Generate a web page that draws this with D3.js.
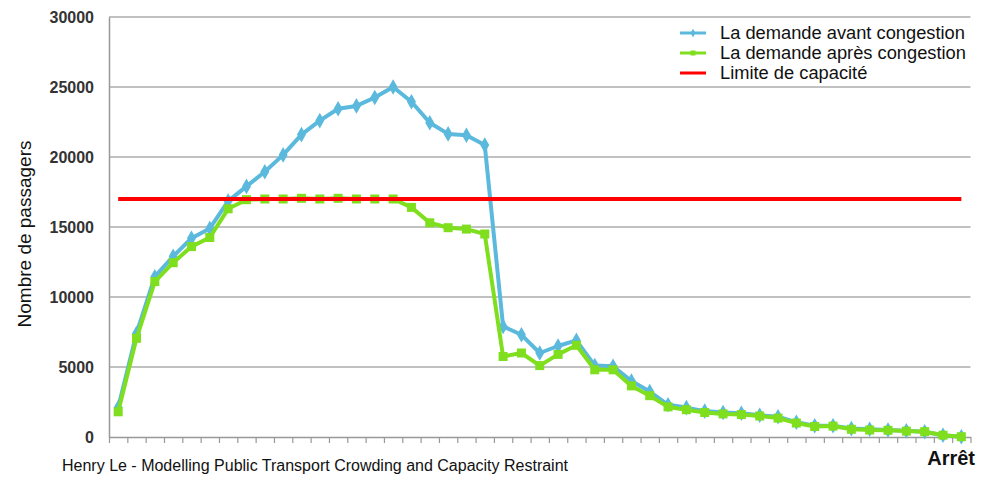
<!DOCTYPE html>
<html>
<head>
<meta charset="utf-8">
<script src="https://cdn.jsdelivr.net/npm/d3@7"></script>
<style>
  body { margin: 0; background: #fff; }
  text { font-family: "Liberation Sans", Arial, sans-serif; }
</style>
</head>
<body>
<div id="chart"></div>
<script>
// stops 1..47, passengers
const stops = d3.range(47);
const avant = [2100, 7400, 11450, 12900, 14200, 14900, 16850, 17900, 18950, 20150,
  21600, 22600, 23450, 23650, 24250, 25000, 23950, 22450, 21650, 21550,
  20850, 7900, 7300, 6000, 6500, 6900, 5100, 5050, 4000, 3250,
  2300, 2100, 1850, 1750, 1700, 1550, 1450, 1050, 800, 800,
  600, 550, 500, 450, 380, 120, 20];
const apres = [1800, 7050, 11100, 12450, 13600, 14250, 16300, 16950, 17000, 17000,
  17050, 17000, 17050, 17000, 17000, 17000, 16400, 15300, 14950, 14850,
  14500, 5750, 6000, 5100, 5900, 6550, 4800, 4800, 3650, 2950,
  2150, 1950, 1750, 1650, 1600, 1500, 1350, 1000, 750, 780,
  550, 500, 480, 420, 380, 130, 20];
const capacite = 17000;
const yTicks = [0, 5000, 10000, 15000, 20000, 25000, 30000];
const legendLabels = ["La demande avant congestion", "La demande après congestion", "Limite de capacité"];

const W = 989, H = 478;
const margin = { left: 109, right: 970.5, top: 17, bottom: 437 };

const svg = d3.select("#chart").append("svg")
  .attr("width", W)
  .attr("height", H);

const x = d3.scaleBand().domain(stops).range([margin.left, margin.right]).padding(0);
const xEdge = d3.scaleLinear().domain([0, stops.length]).range([margin.left, margin.right]);
const y = d3.scaleLinear().domain([0, 30000]).range([margin.bottom, margin.top]);

// gridlines
svg.append("g")
  .selectAll("line")
  .data(yTicks.filter(d => d > 0))
  .enter().append("line")
  .attr("x1", margin.left).attr("x2", margin.right)
  .attr("y1", d => y(d)).attr("y2", d => y(d))
  .attr("stroke", "#adadad")
  .attr("stroke-width", 1.5);

// y axis
const yAxis = svg.append("g")
  .attr("transform", "translate(" + margin.left + ",0)")
  .call(d3.axisLeft(y).tickValues(yTicks).tickFormat(d3.format("d")).tickSize(0).tickPadding(15));
yAxis.select(".domain").attr("stroke", "#999").attr("stroke-width", 1.5);
yAxis.selectAll("text")
  .attr("font-size", 16)
  .attr("font-weight", "bold")
  .attr("fill", "#333");

// x axis: ticks between stops
const xAxis = svg.append("g")
  .attr("transform", "translate(0," + margin.bottom + ")")
  .call(d3.axisBottom(xEdge).tickValues(d3.range(stops.length + 1)).tickFormat("").tickSize(6).tickSizeOuter(0));
xAxis.select(".domain").attr("stroke", "#999").attr("stroke-width", 1.5);
xAxis.selectAll(".tick line").attr("stroke", "#999").attr("stroke-width", 1.2);

const cx = i => x(i) + x.bandwidth() / 2;

const line = d3.line()
  .x((d, i) => cx(i))
  .y(d => y(d));

const blue = "#5ab9dc", green = "#7fdf1e", red = "#ff0000";

// avant congestion
svg.append("path")
  .datum(avant)
  .attr("d", line)
  .attr("fill", "none")
  .attr("stroke", blue)
  .attr("stroke-width", 4)
  .attr("stroke-linejoin", "round");
svg.append("g").selectAll("path")
  .data(avant)
  .enter().append("path")
  .attr("d", d3.symbol(d3.symbolDiamond, 70))
  .attr("transform", (d, i) => "translate(" + cx(i) + "," + y(d) + ")")
  .attr("fill", blue);

// apres congestion
svg.append("path")
  .datum(apres)
  .attr("d", line)
  .attr("fill", "none")
  .attr("stroke", green)
  .attr("stroke-width", 4)
  .attr("stroke-linejoin", "round");
svg.append("g").selectAll("rect")
  .data(apres)
  .enter().append("rect")
  .attr("x", (d, i) => cx(i) - 4.5)
  .attr("y", d => y(d) - 4.5)
  .attr("width", 9)
  .attr("height", 9)
  .attr("fill", green);

// capacity limit
svg.append("line")
  .attr("x1", cx(0)).attr("x2", cx(stops.length - 1))
  .attr("y1", y(capacite)).attr("y2", y(capacite))
  .attr("stroke", red)
  .attr("stroke-width", 4);

// legend
const legend = svg.append("g").attr("transform", "translate(680,0)");
const legendY = [33, 53, 73];
const legendColors = [blue, green, red];
legendLabels.forEach((lab, i) => {
  legend.append("line")
    .attr("x1", 0).attr("x2", 26)
    .attr("y1", legendY[i]).attr("y2", legendY[i])
    .attr("stroke", legendColors[i])
    .attr("stroke-width", 3);
  if (i === 0) {
    legend.append("path")
      .attr("d", d3.symbol(d3.symbolDiamond, 22))
      .attr("transform", "translate(13," + legendY[i] + ")")
      .attr("fill", blue);
  }
  if (i === 1) {
    legend.append("rect")
      .attr("x", 10.5).attr("y", legendY[i] - 2.5)
      .attr("width", 5).attr("height", 5)
      .attr("fill", green);
  }
  legend.append("text")
    .attr("x", 40)
    .attr("y", legendY[i])
    .attr("dy", "0.35em")
    .attr("font-size", 18.3)
    .attr("fill", "#111")
    .text(lab);
});

// y title
svg.append("text")
  .attr("transform", "translate(31,234) rotate(-90)")
  .attr("text-anchor", "middle")
  .attr("font-size", 19)
  .attr("fill", "#111")
  .text("Nombre de passagers");

// x title
svg.append("text")
  .attr("x", 975)
  .attr("y", 465)
  .attr("text-anchor", "end")
  .attr("font-size", 20)
  .attr("font-weight", "bold")
  .attr("fill", "#111")
  .text("Arrêt");

// source
svg.append("text")
  .attr("x", 62)
  .attr("y", 471)
  .attr("font-size", 16)
  .attr("fill", "#111")
  .text("Henry Le - Modelling Public Transport Crowding and Capacity Restraint");
</script>
</body>
</html>
